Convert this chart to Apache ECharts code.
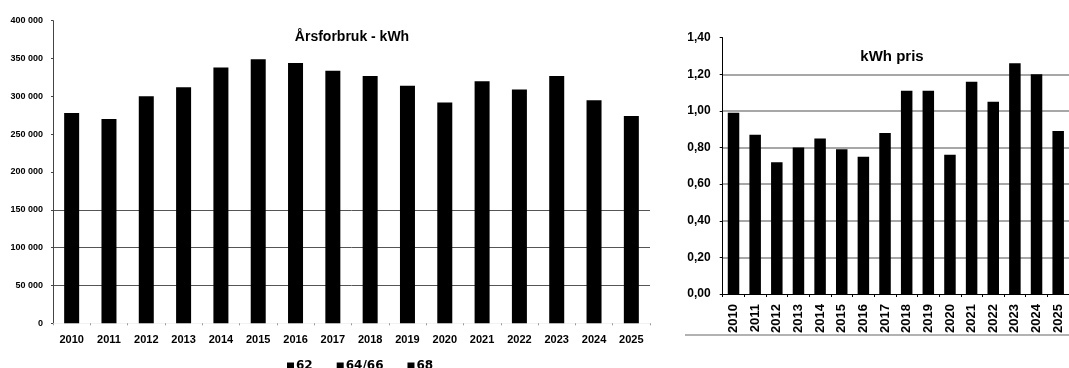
<!DOCTYPE html>
<html><head><meta charset="utf-8">
<script src="https://cdn.jsdelivr.net/npm/echarts@6/dist/echarts.min.js"></script>
<style>html,body{margin:0;padding:0;background:#fff}#c{width:1069px;height:368px}</style>
</head><body><div id="c"></div>
<script>
const years = ['2010','2011','2012','2013','2014','2015','2016','2017','2018','2019','2020','2021','2022','2023','2024','2025'];
const forbruk62 = [278000,270000,300000,312000,338000,349000,344000,334000,327000,314000,292000,320000,309000,327000,295000,274000];
const forbruk6466 = [];
const forbruk68 = [];
const kwhPris = [0.99,0.87,0.72,0.80,0.85,0.79,0.75,0.88,1.11,1.11,0.76,1.16,1.05,1.26,1.20,0.89];
const leftTicks = [0,50000,100000,150000,200000,250000,300000,350000,400000];
const rightTicks = [0,0.2,0.4,0.6,0.8,1.0,1.2,1.4];

const FF = 'Liberation Sans, Arial, sans-serif';
const chart = echarts.init(document.getElementById('c'));
const leftSplit = leftTicks.map((v,i)=> (i>=1 && i<=3) ? '#555' : 'rgba(0,0,0,0)');
const rightSplit = rightTicks.map((v,i)=> (i>=1 && i<=6) ? '#8a8a8a' : 'rgba(0,0,0,0)');
const barS = (name, data) => ({name, type:'bar', stack:'a', xAxisIndex:0, yAxisIndex:0, data, barWidth:15, itemStyle:{color:'#000'}});
chart.setOption({
  animation:false,
  textStyle:{fontFamily:FF},
  title:[
    {text:'Årsforbruk - kWh', left:347, top:25, textAlign:'center', textStyle:{fontSize:14, fontWeight:'bold', color:'#000', fontFamily:FF}},
    {text:'kWh pris', left:887, top:44, textAlign:'center', textStyle:{fontSize:15, fontWeight:'bold', color:'#000', fontFamily:FF}}
  ],
  legend:{data:['62','64/66','68'], left:282, top:355, itemWidth:7, itemHeight:7, itemGap:24, icon:'rect',
    textStyle:{fontSize:12, fontWeight:'bold', fontFamily:'DejaVu Sans', color:'#000', padding:[0,0,0,-3]}},
  graphic:[{type:'line', shape:{x1:685,y1:335,x2:1069,y2:335}, style:{stroke:'#999', lineWidth:1.5}}],
  grid:[
    {left:53, top:20.7, width:597, bottom:44.7},
    {left:722.7, top:37.7, width:351.5, bottom:74}
  ],
  xAxis:[
    {type:'category', gridIndex:0, data:years,
      axisLine:{show:true, lineStyle:{color:'#f2f2f2'}},
      axisTick:{show:true, length:2, lineStyle:{color:'#999'}},
      axisLabel:{margin:11, fontSize:11, fontWeight:'bold', color:'#000', fontFamily:FF}},
    {type:'category', gridIndex:1, data:years,
      axisLine:{show:true, lineStyle:{color:'#000', width:1}},
      axisTick:{show:true, length:3, lineStyle:{color:'#000'}},
      axisLabel:{rotate:90, margin:10, fontSize:13, fontWeight:'bold', color:'#000', fontFamily:FF}}
  ],
  yAxis:[
    {type:'value', gridIndex:0, min:0, max:400000, interval:50000,
      axisLine:{show:true, lineStyle:{color:'#444'}},
      axisTick:{show:true, length:2, lineStyle:{color:'#444'}},
      splitLine:{show:true, lineStyle:{color:leftSplit, width:1}},
      axisLabel:{margin:10, fontSize:9, fontWeight:'bold', color:'#000', fontFamily:FF,
        formatter:v=> v===0 ? '0' : String(v).replace(/\B(?=(\d{3})+(?!\d))/g,' ')}},
    {type:'value', gridIndex:1, min:0, max:1.4, interval:0.2,
      axisLine:{show:true, lineStyle:{color:'#000'}},
      axisTick:{show:true, length:3, lineStyle:{color:'#000'}},
      splitLine:{show:true, lineStyle:{color:rightSplit, width:1.5}},
      axisLabel:{margin:12, fontSize:12, fontWeight:'bold', color:'#000', fontFamily:FF,
        formatter:v=> v.toFixed(2).replace('.',',')}}
  ],
  series:[
    barS('62', forbruk62),
    barS('64/66', forbruk6466),
    barS('68', forbruk68),
    {name:'kWh pris', type:'bar', xAxisIndex:1, yAxisIndex:1, data:kwhPris, barWidth:11.5, itemStyle:{color:'#000'}}
  ]
});
</script></body></html>
